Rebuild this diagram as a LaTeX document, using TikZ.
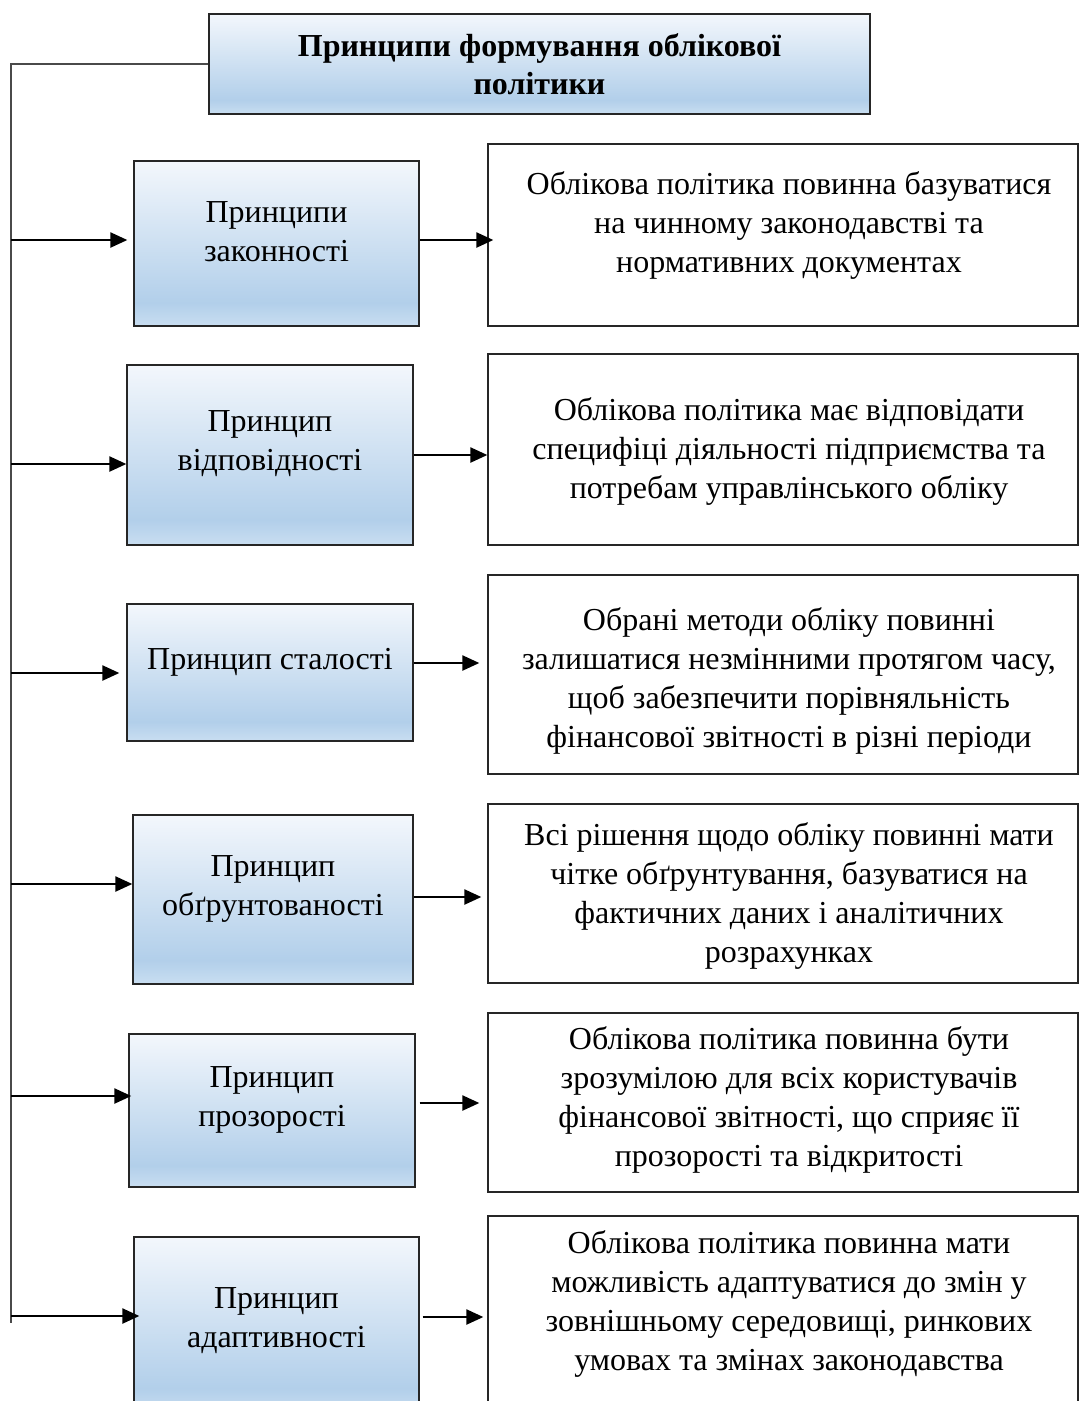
\documentclass[tikz,border=0pt]{standalone}
\usepackage{fontspec}
\setmainfont{Liberation Serif}
\usetikzlibrary{arrows.meta}
\definecolor{shTop}{HTML}{F3F7FC}
\definecolor{shMid}{HTML}{B2CFEA}
\definecolor{shBot}{HTML}{C9DEF1}
\definecolor{lineC}{HTML}{262626}
\definecolor{trunkC}{HTML}{4A4A4A}
\pgfdeclareverticalshading{boxshade}{100bp}{color(0bp)=(shBot); color(25bp)=(shBot); color(32bp)=(shMid); color(75bp)=(shTop); color(100bp)=(shTop)}
\begin{document}
\begin{tikzpicture}[x=1pt,y=-1pt,
  pbox/.style={draw=lineC, line width=1.3pt, shading=boxshade, inner sep=0pt},
  dbox/.style={draw=lineC, line width=1.3pt, fill=white, inner sep=0pt, minimum width=590pt},
  ltext/.style={align=center, inner sep=0pt, font=\fontsize{32}{39}\selectfont},
  arr/.style={line width=2.3pt, -{Triangle[length=17pt,width=15pt]}},
  trunk/.style={line width=1.3pt, draw=trunkC}]
\useasboundingbox (0,0) rectangle (1079,1401);
\clip (0,0) rectangle (1079,1401);

% title
\node[pbox, minimum width=661pt, minimum height=100pt] (T) at (539.5,64) {};
\node[ltext, font=\fontsize{32}{38}\selectfont\bfseries] (Tt) at (539.5,64) {Принципи формування облікової\\політики};

% left boxes
\node[pbox, minimum width=285pt, minimum height=165pt] (L1) at (276.5,243.5) {};
\node[pbox, minimum width=286pt, minimum height=180pt] (L2) at (270,455) {};
\node[pbox, minimum width=286pt, minimum height=137pt] (L3) at (270,672.5) {};
\node[pbox, minimum width=280pt, minimum height=169pt] (L4) at (273,899.5) {};
\node[pbox, minimum width=286pt, minimum height=153pt] (L5) at (272,1110.5) {};
\node[pbox, minimum width=285pt, minimum height=176pt] (L6) at (276.5,1325) {};

\node[ltext] (L1t) at (276.5,232) {Принципи\\законності};
\node[ltext] (L2t) at (270,444) {Принцип\\відповідності};
\node[ltext] (L3t) at (270,662) {Принцип сталості};
\node[ltext] (L4t) at (273,889) {Принцип\\обґрунтованості};
\node[ltext] (L5t) at (272,1100) {Принцип\\прозорості};
\node[ltext] (L6t) at (276.5,1321) {Принцип\\адаптивності};

% description boxes
\node[dbox, minimum height=182pt] (D1) at (783,235) {};
\node[dbox, minimum height=191pt] (D2) at (783,449.5) {};
\node[dbox, minimum height=199pt] (D3) at (783,674.5) {};
\node[dbox, minimum height=179pt] (D4) at (783,893.5) {};
\node[dbox, minimum height=179pt] (D5) at (783,1102.5) {};
\node[dbox, minimum height=199pt] (D6) at (783,1315.5) {};

\node[ltext] (D1t) at (789,225) {Облікова політика повинна базуватися\\на чинному законодавстві та\\нормативних документах};
\node[ltext] (D2t) at (789,451) {Облікова політика має відповідати\\специфіці діяльності підприємства та\\потребам управлінського обліку};
\node[ltext] (D3t) at (789,681) {Обрані методи обліку повинні\\залишатися незмінними протягом часу,\\щоб забезпечити порівняльність\\фінансової звітності в різні періоди};
\node[ltext] (D4t) at (789,896) {Всі рішення щодо обліку повинні мати\\чітке обґрунтування, базуватися на\\фактичних даних і аналітичних\\розрахунках};
\node[ltext] (D5t) at (789,1100) {Облікова політика повинна бути\\зрозумілою для всіх користувачів\\фінансової звітності, що сприяє її\\прозорості та відкритості};
\node[ltext] (D6t) at (789,1304) {Облікова політика повинна мати\\можливість адаптуватися до змін у\\зовнішньому середовищі, ринкових\\умовах та змінах законодавства};

% trunk
\coordinate (tTop) at (11,64);
\coordinate (tBot) at (11,1323);
\draw[trunk] (T.west) -- (tTop) -- (tBot);

% left arrows
\coordinate (a1) at (11,240);
\coordinate (a2) at (11,464);
\coordinate (a3) at (11,673);
\coordinate (a4) at (11,884);
\coordinate (a5) at (11,1096);
\coordinate (a6) at (11,1316);
\draw[arr, shorten >=6pt] (a1) -- (a1 -| L1.west);
\draw[arr] (a2) -- (a2 -| L2.west);
\draw[arr, shorten >=7pt] (a3) -- (a3 -| L3.west);
\draw[arr] (a4) -- (a4 -| L4.west);
\draw[arr, shorten >=-3pt] (a5) -- (a5 -| L5.west);
\draw[arr, shorten >=-6pt] (a6) -- (a6 -| L6.west);

% right arrows
\coordinate (r1) at (450,240);
\coordinate (r2) at (450,455);
\coordinate (r3) at (450,663);
\coordinate (r4) at (450,897);
\coordinate (r5) at (450,1103);
\coordinate (r6) at (450,1317);
\draw[arr, shorten >=-6pt] (L1.east |- r1) -- (D1.west |- r1);
\draw[arr] (L2.east |- r2) -- (D2.west |- r2);
\draw[arr, shorten >=8pt] (L3.east |- r3) -- (D3.west |- r3);
\draw[arr, shorten >=6pt] (L4.east |- r4) -- (D4.west |- r4);
\draw[arr, shorten <=4pt, shorten >=8pt] (L5.east |- r5) -- (D5.west |- r5);
\draw[arr, shorten <=3pt, shorten >=4pt] (L6.east |- r6) -- (D6.west |- r6);
\end{tikzpicture}
\end{document}
